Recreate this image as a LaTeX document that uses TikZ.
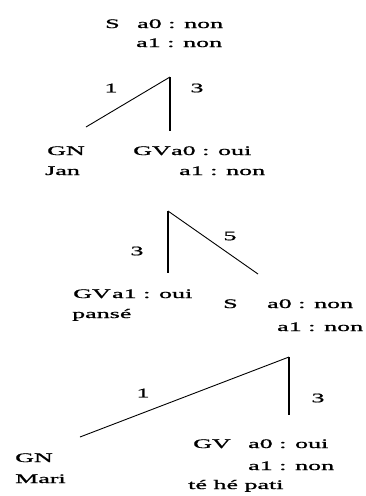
\documentclass[tikz,border=0pt]{standalone}
\usepackage{graphicx}
\usepackage{fontspec}
\newfontfamily\bitfont[FakeBold=0.8]{Liberation Serif}
\newcommand\wx[1]{\scalebox{2}[1]{#1}}
\usetikzlibrary{positioning}

\begin{document}
\begin{tikzpicture}[x=1pt,y=-1pt,
		txt/.style={font=\bitfont\fontsize{13}{14}\selectfont,inner sep=0pt,anchor=base west},
		num/.style={font=\bitfont\fontsize{13}{14}\selectfont,inner sep=0pt},
		branch/.style={line width=0.9pt},
		trunk/.style={line width=1.6pt}]
		\useasboundingbox (0,0) rectangle (365,496);
		% racine
		\node[txt] (s0) at (105,28) {\wx{S}};
		\node[txt] (s0a) at (137,28) {\wx{a0 : non}};
		\node[txt] (s0b) at (136,47) {\wx{a1 : non}};
		% arbre 1
		\coordinate (t1) at (170,77);
		\coordinate (t1g) at (86,127);
		\coordinate (t1d) at (170,131);
		\draw[branch] (t1) -- (t1g);
		\draw[trunk] (t1) -- (t1d);
		\node[num] (n1a) at (111,88) {\wx{1}};
		\node[num] (n1b) at (197,88) {\wx{3}};
		\node[txt] (gn1) at (47,155) {\wx{GN}};
		\node[txt] (jan) at (45,175) {\wx{Jan}};
		\node[txt] (gv1) at (133,155) {\wx{GV}};
		\node[txt] (gv1a) at (gv1.base east) {\wx{a0 : oui}};
		\node[txt] (gv1b) at (179,175) {\wx{a1 : non}};
		% arbre 2
		\coordinate (t2) at (168,211);
		\coordinate (t2g) at (168,273);
		\coordinate (t2d) at (258,274);
		\draw[trunk] (t2) -- (t2g);
		\draw[branch] (t2) -- (t2d);
		\node[num] (n2a) at (137,251) {\wx{3}};
		\node[num] (n2b) at (230,236) {\wx{5}};
		\node[txt] (gv2) at (73,298) {\wx{GV}};
		\node[txt,xshift=1pt] (gv2a) at (gv2.base east) {\wx{a1 : oui}};
		\node[txt] (pense) at (72,318) {\wx{pansé}};
		\node[txt] (s2) at (223,308) {\wx{S}};
		\node[txt] (s2a) at (267,308) {\wx{a0 : non}};
		\node[txt] (s2b) at (277,331) {\wx{a1 : non}};
		% arbre 3
		\coordinate (t3) at (289,357);
		\coordinate (t3g) at (80,437);
		\coordinate (t3d) at (289,415);
		\draw[branch] (t3) -- (t3g);
		\draw[trunk] (t3) -- (t3d);
		\node[num] (n3a) at (143,393) {\wx{1}};
		\node[num] (n3b) at (318,398) {\wx{3}};
		\node[txt] (gn3) at (15,462) {\wx{GN}};
		\node[txt] (mari) at (15,483) {\wx{Mari}};
		\node[txt] (gv3) at (193,448) {\wx{GV}};
		\node[txt] (gv3a) at (248,448) {\wx{a0 : oui}};
		\node[txt] (gv3b) at (248,470) {\wx{a1 : non}};
		\node[txt] (tepati) at (188,489) {\wx{té hé pati}};
	\end{tikzpicture}
\end{document}
